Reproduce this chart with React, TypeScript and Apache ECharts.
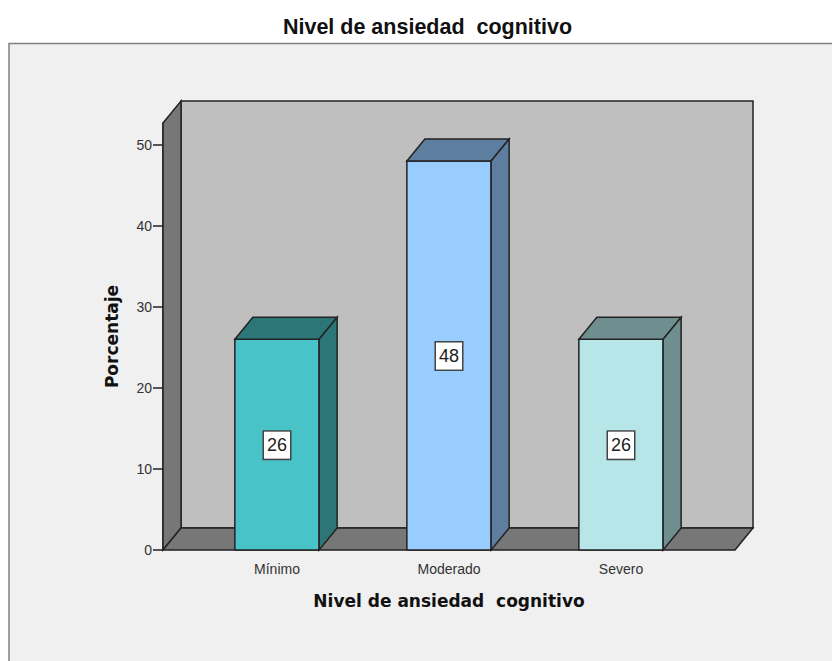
import React, { useEffect, useRef } from "react";
import * as echarts from "echarts";

const categories = ["Mínimo", "Moderado", "Severo"];
const percentages = [26, 48, 26];
const frontColors = ["#48c4c8", "#99ccff", "#b6e6e8"];
const shadeColors = ["#2d7678", "#5e7ea0", "#6f8e90"];
const yTicks = { min: 0, max: 52.7, interval: 10 };
const chartTitle = "Nivel de ansiedad  cognitivo";
const xName = "Nivel de ansiedad  cognitivo";
const yName = "Porcentaje";

const DX = 18;
const DY = -22;
const PAD = 28;
const EDGE = "#222222";

function poly(points: number[][], fill: string, width = 1.5) {
  return {
    type: "polygon",
    shape: { points },
    style: { fill, stroke: EDGE, lineWidth: width },
  };
}

export default function App() {
  const ref = useRef<HTMLDivElement>(null);
  useEffect(() => {
    const chart = echarts.init(ref.current!, null, { renderer: "svg" });
    chart.setOption({
      animation: false,
      backgroundColor: "#ffffff",
      textStyle: { fontFamily: "Liberation Sans" },
      graphic: [
        {
          type: "rect",
          z: -10,
          shape: { x: 9, y: 43.5, width: 900, height: 700 },
          style: { fill: "#f0f0f0", stroke: "#808080", lineWidth: 1.5 },
        },
        {
          type: "text",
          z: 5,
          x: 427.5,
          y: 27,
          style: {
            text: chartTitle,
            fill: "#111111",
            font: "bold 21.5px 'Liberation Sans'",
            align: "center",
            verticalAlign: "middle",
          },
        },
      ],
      grid: { left: 191, width: 516, top: 123, height: 427 },
      xAxis: {
        type: "category",
        data: categories,
        boundaryGap: true,
        axisLine: { show: false },
        axisTick: { alignWithLabel: true, length: 9, lineStyle: { color: EDGE, width: 1.5 } },
        axisLabel: { fontSize: 14, color: "#333333", margin: 12, fontFamily: "Liberation Sans" },
        name: xName,
        nameLocation: "middle",
        nameGap: 42,
        nameTextStyle: { fontSize: 17, fontWeight: "bold", color: "#111111", fontFamily: "DejaVu Sans" },
      },
      yAxis: {
        type: "value",
        min: yTicks.min,
        max: yTicks.max,
        interval: yTicks.interval,
        offset: PAD,
        splitLine: { show: false },
        axisLine: { show: true, lineStyle: { color: EDGE, width: 1.5 } },
        axisTick: { show: true, length: 10, lineStyle: { color: EDGE, width: 1.5 } },
        axisLabel: {
          fontSize: 14,
          color: "#333333",
          margin: 11,
          padding: [3, 0, 0, 0],
          showMaxLabel: false,
          fontFamily: "Liberation Sans",
        },
        name: yName,
        nameLocation: "middle",
        nameGap: 43,
        nameTextStyle: { fontSize: 17, fontWeight: "bold", color: "#111111", fontFamily: "DejaVu Sans" },
      },
      series: [
        {
          type: "custom",
          z: 1,
          silent: true,
          data: [[0, 0]],
          renderItem: (p: any) => {
            const c = p.coordSys;
            const l = c.x - PAD;
            const r = c.x + c.width + PAD;
            const t = c.y;
            const b = c.y + c.height;
            return {
              type: "group",
              children: [
                poly([[l + DX, t + DY], [r + DX, t + DY], [r + DX, b + DY], [l + DX, b + DY]], "#bfbfbf"),
                poly([[l, t], [l + DX, t + DY], [l + DX, b + DY], [l, b]], "#777777"),
                poly([[l, b], [l + DX, b + DY], [r + DX, b + DY], [r, b]], "#777777"),
              ],
            };
          },
        },
        {
          type: "custom",
          z: 3,
          silent: true,
          data: percentages.map((v, i) => [i, v]),
          encode: { x: 0, y: 1 },
          renderItem: (p: any, api: any) => {
            const i = api.value(0);
            const v = api.value(1);
            const [cx, yTop] = api.coord([i, v]);
            const [, yBase] = api.coord([i, 0]);
            const half = (api.size([1, 0])[0] * 0.49) / 2;
            const l = cx - half;
            const r = cx + half;
            const idx = p.dataIndex;
            return {
              type: "group",
              children: [
                poly([[l, yTop], [r, yTop], [r, yBase], [l, yBase]], frontColors[idx]),
                poly([[l, yTop], [l + DX, yTop + DY], [r + DX, yTop + DY], [r, yTop]], shadeColors[idx]),
                poly([[r, yTop], [r + DX, yTop + DY], [r + DX, yBase + DY], [r, yBase]], shadeColors[idx]),
                {
                  type: "text",
                  x: cx,
                  y: (yTop + yBase) / 2 + 0.5,
                  style: {
                    text: String(v),
                    fill: "#222222",
                    font: "18px 'Liberation Sans'",
                    align: "center",
                    verticalAlign: "middle",
                    backgroundColor: "#ffffff",
                    borderColor: "#444444",
                    borderWidth: 1.5,
                    padding: [5, 3, 4, 3],
                  },
                },
              ],
            };
          },
        },
      ],
    });
    return () => chart.dispose();
  }, []);
  return <div ref={ref} style={{ position: "fixed", left: 0, top: 0, width: 832, height: 661 }} />;
}
